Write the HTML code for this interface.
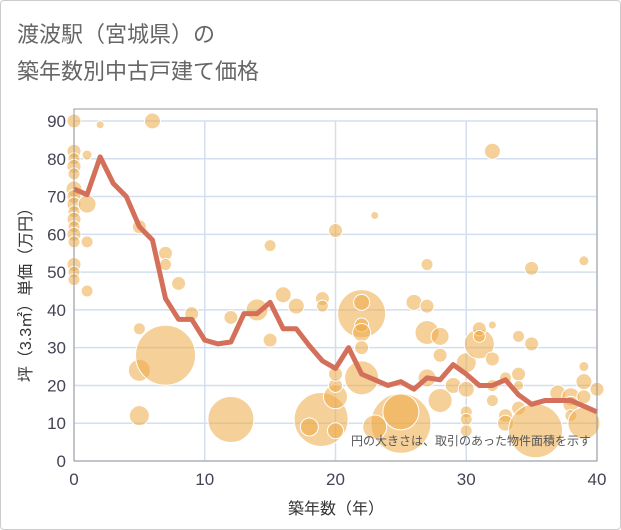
<!DOCTYPE html>
<html><head><meta charset="utf-8"><style>
body{margin:0;background:#fff;}
#wrap{width:621px;height:530px;position:relative;border:1px solid #ccc;box-sizing:border-box;border-radius:4px;overflow:hidden;font-family:"Liberation Sans","Noto Sans CJK JP",sans-serif;}
</style></head><body>
<div id="wrap">
<svg id="chart" width="621" height="530">
<text x="16" y="41" font-size="22" fill="#666" font-family="Liberation Sans, Noto Sans CJK JP, sans-serif">渡波駅（宮城県）の</text>
<text x="16" y="78" font-size="22" fill="#666" font-family="Liberation Sans, Noto Sans CJK JP, sans-serif">築年数別中古戸建て価格</text>
<g id="grid"></g><g id="bubbles"></g><g id="line"></g><g id="axes"></g>
<text x="590" y="444" font-size="12" fill="#555" text-anchor="end" font-family="Liberation Sans, Noto Sans CJK JP, sans-serif">円の大きさは、取引のあった物件面積を示す</text>
<text x="335" y="513" font-size="16" fill="#333" text-anchor="middle" font-family="Liberation Sans, Noto Sans CJK JP, sans-serif">築年数（年）</text>
<text transform="translate(30,290) rotate(-90)" font-size="16" fill="#333" text-anchor="middle" font-family="Liberation Sans, Noto Sans CJK JP, sans-serif">坪（3.3㎡）単価（万円）</text>
</svg>
<script>
const xTicks=[0,10,20,30,40];
const yTicks=[0,10,20,30,40,50,60,70,80,90];
const lineYears=[0,1,2,3,4,5,6,7,8,9,10,11,12,13,14,15,16,17,18,19,20,21,22,23,24,25,26,27,28,29,30,31,32,33,34,35,36,37,38,39,40];
const lineValues=[72,70.5,80.5,73.5,70,62,58.5,43,37.5,37.5,32,31,31.5,39,39,42,35,35,30.5,26.5,24.5,30,23,21.5,20,21,19,22,21.5,25.5,23,20,20,21.5,17.5,15,16,16,16,14.5,13];
const bubbleX=[0,0,0,0,0,0,0,0,0,0,0,0,0,0,0,0,1,1,1,1,2,6,5,5,5,5,7,7,7,8,9,12,12,14,15,15,16,17,19,19,20,18.9,18,20,20,20,20,22,22,22,22,22,22,23,25,25,23,26,27,27,27,27,28,28,28,29,30,30,30,30,30,31,31,31,32,32,32,32,32,33,33,33,34,34,34,34,35,35,35.3,37,38,38,38,39,39,39,39,39,40];
const bubbleY=[90,82,80,78,76,72,70,68,66,64,62,60,58,52,50,48,81,68,58,45,89,90,62,35,24,12,55,52,28,47,39,11,38,40,57,32,44,41,43,41,61,11,9,17,20,23,8,39,42,36,34,30,22,65,10,13,9,42,52,41,34,22,16,33,28,20,26,19,13,11,8,31,35,33,82,36,27,20,16,22,12,10,33,23,20,14,51,31,8,18,17,15,12,53,25,21,17,10,19];
const bubbleR=[7,7,6,7,6,8,7,7,6,7,6,7,6,7,6,6,5,9,6,6,4,8,7,6,11,10,7,6,30,7,7,23,7,11,6,7,8,8,7,6,7,27,9,12,7,7,8,24,8,7,9,7,17,4,30,18,12,8,6,7,12,9,12,9,7,8,10,8,6,6,6,15,7,6,8,4,7,6,6,6,7,8,6,7,5,7,7,7,27,8,9,8,6,5,5,8,7,16,7];
const X0=73,X1=596,Y0=460,Y1=120;
const sx=v=>X0+(v/40)*(X1-X0);
const sy=v=>Y0-(v/90)*(Y0-Y1);
const NS="http://www.w3.org/2000/svg";
function mk(t,a,p){const e=document.createElementNS(NS,t);for(const k in a)e.setAttribute(k,a[k]);p.appendChild(e);return e;}
const grid=document.getElementById('grid'),axes=document.getElementById('axes');
yTicks.forEach(v=>{
 const l=mk('line',{x1:X0,x2:X1,y1:sy(v),y2:sy(v),stroke:'#d3dfee','stroke-width':1.5},grid);
 
 
 const t=mk('text',{x:X0-8,y:sy(v)+6,'text-anchor':'end','font-size':17,fill:'#445'},axes);
 t.textContent=v;
 
 
});
xTicks.forEach(v=>{
 const l=mk('line',{x1:sx(v),x2:sx(v),y1:Y1,y2:Y0,stroke:'#d3dfee','stroke-width':1.5},grid);
 
 
 const t=mk('text',{x:sx(v),y:Y0+24,'text-anchor':'middle','font-size':17,fill:'#445'},axes);
 t.textContent=v;
 
 
});
const fr=mk('rect',{x:X0,y:108,width:X1-X0,height:Y0-108,fill:'none',stroke:'#999','stroke-width':1},axes);


const bg=document.getElementById('bubbles');
bubbleX.forEach((x,i)=>{
 const c=mk('circle',{cx:sx(x),cy:sy(bubbleY[i]),r:bubbleR[i],fill:'rgba(236,170,70,0.55)',stroke:'#fff','stroke-width':1},bg);
 
 
});
const pts=lineYears.map((x,i)=>sx(x)+','+sy(lineValues[i])).join(' ');
const pl=mk('polyline',{points:pts,fill:'none',stroke:'#d4705a','stroke-width':5,'stroke-linejoin':'round'},document.getElementById('line'));


</script>
</div>
</body></html>
